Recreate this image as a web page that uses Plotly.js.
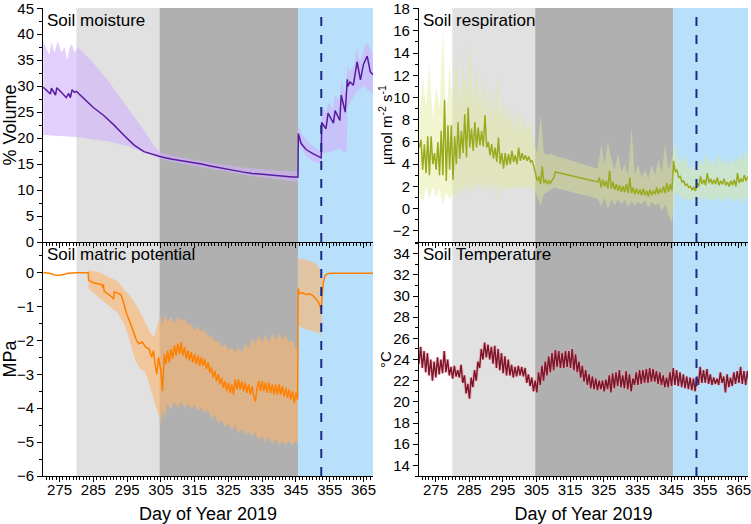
<!DOCTYPE html>
<html><head><meta charset="utf-8">
<script src="https://cdn.plot.ly/plotly-3.0.1.min.js"></script>
<style>html,body{margin:0;padding:0;background:#fff}#chart{width:751px;height:524px}</style>
</head><body><div id="chart"></div>
<script>
// ---------- treatment periods & event ----------
const periodEdges = [280, 304.6, 345.6, 367.8];
const periodColors = ['#e1e1e1', '#b0b0b0', '#b8e0fa'];
const eventDay = 352.5;

// ---------- Soil moisture (% Volume) ----------
const smX = [270.2,270.8,272.3,272.6,273.8,274.2,275.0,276.0,277.0,277.7,278.2,278.7,279.4,280.0,282,285,288,291,294,297,300,303,305,308,311,314,317,320,323,326,329,332,335,338,341,344,345.6,345.7,346.5,348,350,352.5,352.6,353.9,354.5,356.1,356.6,358.0,358.4,359.6,360.2,360.4,361.0,362.0,363.1,364.1,365.0,366.1,367.0,367.8];
const smY = [29.8,29.4,28.5,29.6,28.3,29.7,29.2,28.5,27.8,28.6,27.8,29.3,28.8,29.0,27.7,25.9,24.4,22.6,20.6,18.7,17.4,16.8,16.4,16.0,15.7,15.4,15.0,14.6,14.2,13.8,13.5,13.2,13.0,12.8,12.7,12.5,12.5,20.9,19.0,17.8,17.0,16.2,23.0,21.8,24.8,22.9,25.3,23.4,28.3,25.0,31.3,30.0,30.8,30.2,34.7,31.2,34.2,35.8,32.8,32.2];
const smUpX = [270.2,271,272,272.6,273.5,274.5,275.5,276.5,277.3,278,278.6,279.5,280.3,285,290,295,300,303,305,310,320,330,340,345.6,345.7,347,349,351,352.5,352.6,354,354.5,356,356.5,358,358.4,359.6,360.3,361,362,363,364,365,366,367.8];
const smUpY = [38.5,37.5,36,38.5,36.5,38.7,36.5,37.5,35,37.5,38,36.5,37.5,34.5,30.5,26,21.5,18.5,17.2,16.4,15.2,14.3,13.7,13.6,22.5,20.5,19,18,17.3,26,25,27,25.5,28.5,27,31.5,28.5,34,33,33.5,37.5,34.5,37,38.5,36];
const smLoX = [270.2,275,280,285,290,295,300,303,305,310,320,330,340,345.6,345.7,348,350,352.5,352.6,356,358,360,360.3,363,365,367.8];
const smLoY = [20.6,20.4,20.2,19.8,19.3,18.5,17.3,16.5,16.0,15.2,14.0,12.9,12.0,11.6,19,16.5,15.5,15.0,17,17.5,18,17,26,29,30,28.5];

// ---------- Soil matric potential (MPa) ----------
const mpPreX = [270.2,272,273.5,275,276.5,277.5,280,283.5,283.6,285,287.5,287.8,288.0,288.2,290.5,291.0,291.2,293.2,294.0,294.8,296,297.0,297.8,298.5,299.5,300.5,301.5,302.3,302.8,303.3,303.8,304.3];
const mpPreY = [0,-0.02,-0.07,-0.08,-0.05,-0.02,-0.01,-0.01,-0.23,-0.3,-0.36,-0.45,-0.35,-0.55,-0.72,-0.78,-0.57,-0.65,-0.9,-1.2,-1.5,-1.8,-2.0,-2.1,-2.05,-2.2,-2.25,-2.5,-2.3,-2.7,-3.0,-2.5];
const mpMidStart = 305.0, mpMidStep = 0.5;
const mpMidY = [-2.9,-3.5,-2.4,-2.7,-2.3,-2.65,-2.25,-2.55,-2.15,-2.45,
 -2.1,-2.4,-2.05,-2.45,-2.2,-2.55,-2.3,-2.6,-2.35,-2.65,
 -2.4,-2.7,-2.45,-2.75,-2.5,-2.75,-2.55,-2.85,-2.65,-2.95,
 -2.8,-3.1,-2.9,-3.2,-3.0,-3.3,-3.1,-3.4,-3.2,-3.5,
 -3.25,-3.55,-3.3,-3.6,-3.15,-3.45,-3.15,-3.45,-3.2,-3.5,
 -3.25,-3.55,-3.3,-3.6,-3.35,-3.65,-3.8,-3.4,-3.2,-3.5,
 -3.2,-3.5,-3.25,-3.55,-3.25,-3.55,-3.3,-3.6,-3.3,-3.6,
 -3.3,-3.6,-3.35,-3.65,-3.4,-3.7,-3.45,-3.75,-3.5,-3.85,
 -3.55,-3.75];
const mpPostX = [345.65,346.0,347,348,349,350,351,351.8,352.5,352.8,353.2,353.7,354.5,356,360,364,367.8];
const mpPostY = [-0.47,-0.62,-0.6,-0.65,-0.63,-0.68,-0.78,-0.9,-1.1,-0.6,-0.25,-0.08,-0.03,-0.02,-0.02,-0.02,-0.02];
const mpBandX = [283.6,285,287,288,289,290,291,292,293,294,295,296,297,298,299,300,301,302,303,304,304.6,305,305.5,306,307,308,309,310,311,312,313,314,315,316,317,318,319,320,321,322,323,324,325,326,327,328,329,330,331,332,333,334,335,336,337,338,339,340,341,342,343,344,345,345.6,345.65,347,349,351,352.5,353.0];
const mpUpY = [0.07,0.05,0.0,-0.05,-0.1,-0.15,-0.2,-0.25,-0.35,-0.5,-0.6,-0.7,-0.85,-1.0,-1.2,-1.4,-1.6,-1.8,-1.9,-1.6,-1.35,-1.3,-1.6,-1.25,-1.45,-1.3,-1.5,-1.3,-1.45,-1.35,-1.55,-1.5,-1.7,-1.6,-1.75,-1.7,-1.9,-1.85,-2.05,-2.0,-2.2,-2.1,-2.3,-2.2,-2.35,-2.2,-2.35,-2.1,-2.25,-1.9,-2.1,-1.85,-2.05,-1.85,-2.05,-1.8,-2.0,-1.8,-2.0,-1.85,-2.05,-2.0,-2.3,-2.2,0.42,0.4,0.35,0.25,0.05,-0.25];
const mpLoY = [-0.48,-0.6,-0.75,-0.85,-0.92,-1.0,-1.1,-1.15,-1.3,-1.5,-1.75,-2.1,-2.45,-2.7,-2.85,-2.9,-3.1,-3.4,-3.7,-4.1,-4.3,-4.5,-4.0,-4.3,-3.85,-4.05,-3.8,-4.0,-3.8,-4.0,-3.85,-4.05,-3.9,-4.1,-3.95,-4.15,-4.05,-4.3,-4.2,-4.45,-4.35,-4.55,-4.45,-4.65,-4.5,-4.75,-4.6,-4.8,-4.65,-4.85,-4.7,-4.95,-4.8,-5.0,-4.85,-5.05,-4.9,-5.1,-4.95,-5.1,-4.95,-5.1,-4.95,-5.05,-1.55,-1.65,-1.7,-1.75,-1.85,-0.35];

// ---------- Soil respiration (umol m-2 s-1) ----------
const srAStart = 270.2, srStep = 0.5;
const srA = [5.5,6.2,3.5,5.8,3.2,6.5,3.0,6.5,4.0,5.0,
 3.5,6.0,3.0,7.0,3.0,9.8,2.5,7.5,3.5,7.5,
 2.6,6.5,4.0,7.8,4.5,7.0,5.0,8.5,4.6,9.1,
 5.5,7.2,5.2,7.8,5.5,7.3,5.7,7.0,5.6,8.4,
 5.5,6.0,4.8,5.8,4.5,5.5,4.2,6.4,4.0,5.0,
 3.6,5.0,3.9,4.9,4.0,5.2,4.2,4.8,4.0,5.5,
 4.3,5.0,4.4,4.8,4.3,4.7,4.2,4.3,3.8,3.2,
 2.5,2.9,2.2,3.8,2.3,2.6,2.2,2.5,2.3,2.6,
 2.8];
const srGapX = [310.6];
const srGapY = [3.3];
const srBStart = 323.2;
const srB = [2.4,2.8,1.9,2.6,2.0,2.5,1.8,3.4,1.8,2.4,
 1.7,2.2,1.6,2.1,1.5,2.0,1.5,2.2,1.4,2.8,
 1.4,1.9,1.3,1.8,1.3,1.7,1.2,1.8,1.2,1.6,
 1.1,1.7,1.2,1.6,1.3,1.9,1.3,1.8,1.4,2.0,
 1.4,2.3,1.5,2.2,1.6,4.3,3.3,3.5,2.8,2.9,
 2.4,2.5,2.1,2.2,1.9,2.0,1.7,1.9,1.6,2.3,
 2.0,2.9,2.2,2.6,2.1,3.2,2.3,2.7,2.2,2.6,
 2.2,2.8,2.1,2.5,2.2,2.7,2.1,2.4,2.0,2.5,
 2.1,2.6,2.0,3.2,2.3,2.7,2.4,3.0,2.5,2.9];
const srBandStep = 1;
const srUpA = [8,12,9,13,8,11,9,16,8,13, 9,14,9,13,10,15,9,13,9,12, 8,11,8,12,8,10,7.5,9,7,9, 7,8.5,6.8,8,6,5,8.5,5,4.8,5, 4.8];
const srLoA = [1.5,0.5,2,0.8,2,1,1.8,0.3,1.5,0.8, 1.5,0.8,2,1.5,2.2,1.2,2.4,1.8,2.5,1.5, 2.2,1.6,2.3,0.8,2.2,1.5,2,1.6,2.1,1.7, 2,1.8,2,1.8,1.7,1.2,0.3,1.3,1.5,1.7, 1.9];
const srUpB = [3.6,5.8,4,6,4.5,3.5,5,3.3,4,3, 7.3,3,4,2.8,3.5,2.7,4,3,4.5,3.2, 5.8,3.5,4.5,6,4.5,4,5,3.5,4,3.3, 4.5,3.8,5,4,4.5,3.8,5,4,4.5,3.8, 4.5,4,5,4.2,5.3,4.5];
const srLoB = [0.9,0.2,1,0,0.8,0.3,0.9,0.4,0.8,0.2, 0.7,0.3,0.6,0.4,0.7,0.1,0.6,0.3,0.5,-0.2, 0.4,-0.6,-1.3,1.5,1.2,1.0,0.8,0.9,0.7,0.6, 1.0,0.8,1.1,0.6,1.0,0.7,1.0,0.6,1.1,0.7, 1.0,0.5,1.1,0.3,1.2,0.8];

// ---------- Soil temperature (°C) ----------
const tStart = 270.1, tStep = 0.5;
const tempC = [23.6,25.2,23.2,24.8,22.8,24.6,22.5,24.0,22.0,23.8,
 22.3,24.2,22.6,24.0,22.7,24.8,22.8,24.0,22.5,23.3,
 22.2,23.4,22.4,23.0,22.3,23.5,21.8,22.5,20.8,21.7,
 20.3,22.3,21.4,23.0,22.0,23.8,23.2,25.0,24.0,25.6,
 24.2,25.4,24.0,25.2,23.6,25.3,23.2,25.0,23.0,24.6,
 22.7,24.3,22.5,24.0,22.5,23.5,22.3,23.3,22.4,23.4,
 22.5,23.3,22.4,23.2,21.8,22.6,21.5,22.3,21.0,22.0,
 20.9,22.8,21.6,23.4,22.0,23.8,22.5,24.3,22.8,24.6,
 23.0,24.9,23.3,24.8,23.2,24.6,23.2,24.8,23.3,24.8,
 23.2,25.0,23.0,24.5,22.8,23.8,22.3,23.4,21.9,23.0,
 21.6,22.6,21.3,22.4,21.2,22.2,21.1,22.0,21.2,22.0,
 21.0,22.1,21.2,22.5,20.9,22.7,21.3,22.8,21.5,23.0,
 21.4,22.5,21.3,22.9,21.2,22.6,21.0,22.2,21.6,22.8,
 21.6,23.0,21.7,23.0,21.8,23.1,21.8,23.2,21.9,23.1,
 21.9,22.9,21.7,22.8,21.6,22.5,21.4,22.3,21.4,22.8,
 21.5,23.2,21.6,23.0,21.5,22.8,21.4,22.6,21.3,22.4,
 21.2,22.3,21.1,22.2,21.0,22.4,21.6,23.3,21.8,23.0,
 21.8,23.1,21.7,22.6,21.6,22.3,21.7,22.2,21.6,22.8,
 21.8,22.4,20.9,22.6,21.4,22.3,21.5,22.8,21.7,22.9,
 21.8,23.3,21.7,22.9,21.6,22.9,21.8];

// ---------- helpers ----------
const grid = (start, n, step) => Array.from({length: n}, (_, i) => +(start + i * step).toFixed(3));
const band = (xu, yu, xl, yl) => ({x: xu.concat(xl.slice().reverse()), y: yu.concat(yl.slice().reverse())});

const mpX = mpPreX.concat(grid(mpMidStart, mpMidY.length, mpMidStep), mpPostX);
const mpY = mpPreY.concat(mpMidY, mpPostY);
const srX = grid(srAStart, srA.length, srStep).concat(srGapX, grid(srBStart, srB.length, srStep));
const srY = srA.concat(srGapY, srB);
const srBandX = grid(srAStart, srUpA.length, srBandStep).concat(grid(srBStart, srUpB.length, srBandStep));
const tX = grid(tStart, tempC.length, tStep);

const smBand = band(smUpX, smUpY, smLoX, smLoY);
const mpBand = band(mpBandX, mpUpY, mpBandX, mpLoY);
const srBand = band(srBandX, srUpA.concat(srUpB), srBandX, srLoA.concat(srLoB));

const traces = [
  {x: smBand.x, y: smBand.y, fill: 'toself', fillcolor: 'rgba(208,178,250,0.62)', line: {width: 0}, mode: 'lines', xaxis: 'x', yaxis: 'y'},
  {x: smX, y: smY, mode: 'lines', line: {color: '#5a1aa0', width: 1.5}, xaxis: 'x', yaxis: 'y'},
  {x: mpBand.x, y: mpBand.y, fill: 'toself', fillcolor: 'rgba(250,180,110,0.62)', line: {width: 0}, mode: 'lines', xaxis: 'x2', yaxis: 'y2'},
  {x: mpX, y: mpY, mode: 'lines', line: {color: '#ff8000', width: 1.5}, xaxis: 'x2', yaxis: 'y2'},
  {x: srBand.x, y: srBand.y, fill: 'toself', fillcolor: 'rgba(225,232,150,0.45)', line: {width: 0}, mode: 'lines', xaxis: 'x3', yaxis: 'y3'},
  {x: srX, y: srY, mode: 'lines', line: {color: '#9aab1f', width: 1.5}, xaxis: 'x3', yaxis: 'y3'},
  {x: tX, y: tempC, mode: 'lines', line: {color: 'rgba(240,150,170,0.6)', width: 3.5}, xaxis: 'x4', yaxis: 'y4'},
  {x: tX, y: tempC, mode: 'lines', line: {color: '#7a1628', width: 1.4}, xaxis: 'x4', yaxis: 'y4'}
];

const shapes = [];
[['x','y'],['x2','y2'],['x3','y3'],['x4','y4']].forEach(([xr, yr]) => {
  for (let i = 0; i < periodColors.length; i++) {
    shapes.push({type: 'rect', xref: xr, yref: yr + ' domain', x0: periodEdges[i], x1: periodEdges[i+1], y0: 0, y1: 1, fillcolor: periodColors[i], line: {width: 0}, layer: 'below'});
  }
  shapes.push({type: 'line', xref: xr, yref: yr + ' domain', x0: eventDay, x1: eventDay, y0: 0, y1: 1, line: {color: '#1b2a85', width: 2, dash: 'dash'}, layer: 'above'});
});

const font = {family: 'Liberation Sans, Arial, sans-serif', size: 15, color: '#000'};
const xBase = {range: [270.1, 367.8], tick0: 275, dtick: 10, ticks: 'outside', ticklen: 5, tickcolor: '#000', showline: true, linecolor: '#000', linewidth: 1, showgrid: false, zeroline: false, ticklabeloverflow: 'allow', ticklabelstandoff: -5, minor: {dtick: 1, ticks: 'outside', ticklen: 3, tickcolor: '#000'}};
const yBase = {ticks: 'outside', ticklen: 5, tickcolor: '#000', showline: true, linecolor: '#000', linewidth: 1, showgrid: false, zeroline: false, ticklabeloverflow: 'allow'};
const dL = [0, 0.468], dR = [0.5333, 1];

const layout = {
  width: 751, height: 524,
  margin: {l: 43, r: 3, t: 8, b: 48},
  paper_bgcolor: '#fff', plot_bgcolor: 'rgba(0,0,0,0)',
  font: font, showlegend: false, hovermode: false,
  xaxis: Object.assign({}, xBase, {domain: dL, anchor: 'y', showticklabels: false}),
  xaxis2: Object.assign({}, xBase, {domain: dL, anchor: 'y2', title: {text: 'Day of Year 2019', standoff: 12}}),
  xaxis3: Object.assign({}, xBase, {domain: dR, anchor: 'y3', showticklabels: false}),
  xaxis4: Object.assign({}, xBase, {domain: dR, anchor: 'y4', title: {text: 'Day of Year 2019', standoff: 12}}),
  yaxis: Object.assign({}, yBase, {domain: [0.5, 1], anchor: 'x', range: [0, 45.05], dtick: 5, minor: {dtick: 2.5, ticks: 'outside', ticklen: 3, tickcolor: '#000'}, title: {text: '% Volume'}}),
  yaxis2: Object.assign({}, yBase, {domain: [0, 0.5], anchor: 'x2', range: [-6, 0.9], dtick: 1, minor: {dtick: 0.5, ticks: 'outside', ticklen: 3, tickcolor: '#000'}, title: {text: 'MPa'}}),
  yaxis3: Object.assign({}, yBase, {domain: [0.5, 1], anchor: 'x3', range: [-3, 18.05], dtick: 2, minor: {dtick: 1, ticks: 'outside', ticklen: 3, tickcolor: '#000'}}),
  yaxis4: Object.assign({}, yBase, {domain: [0, 0.5], anchor: 'x4', range: [13, 35.1], dtick: 2, minor: {dtick: 1, ticks: 'outside', ticklen: 3, tickcolor: '#000'}}),
  shapes: shapes,
  annotations: [
    {text: 'Soil moisture', xref: 'x domain', yref: 'y domain', x: 0.005, y: 0.995, xanchor: 'left', yanchor: 'top', showarrow: false, font: {size: 17}},
    {text: 'Soil matric potential', xref: 'x2 domain', yref: 'y2 domain', x: 0.005, y: 0.995, xanchor: 'left', yanchor: 'top', showarrow: false, font: {size: 17}},
    {text: 'Soil respiration', xref: 'x3 domain', yref: 'y3 domain', x: 0.005, y: 0.995, xanchor: 'left', yanchor: 'top', showarrow: false, font: {size: 17}},
    {text: 'Soil Temperature', xref: 'x4 domain', yref: 'y4 domain', x: 0.005, y: 0.995, xanchor: 'left', yanchor: 'top', showarrow: false, font: {size: 17}},
    {text: 'µmol m<sup>-2</sup> s<sup>-1</sup>', xref: 'paper', yref: 'y3 domain', x: 0.485, y: 0.5, xanchor: 'center', yanchor: 'middle', textangle: -90, showarrow: false, font: {size: 15}},
    {text: '°C', xref: 'paper', yref: 'y4 domain', x: 0.485, y: 0.5, xanchor: 'center', yanchor: 'middle', textangle: -90, showarrow: false, font: {size: 15}}
  ]
};

Plotly.newPlot('chart', traces, layout, {displayModeBar: false, staticPlot: true});
</script>
</body></html>
